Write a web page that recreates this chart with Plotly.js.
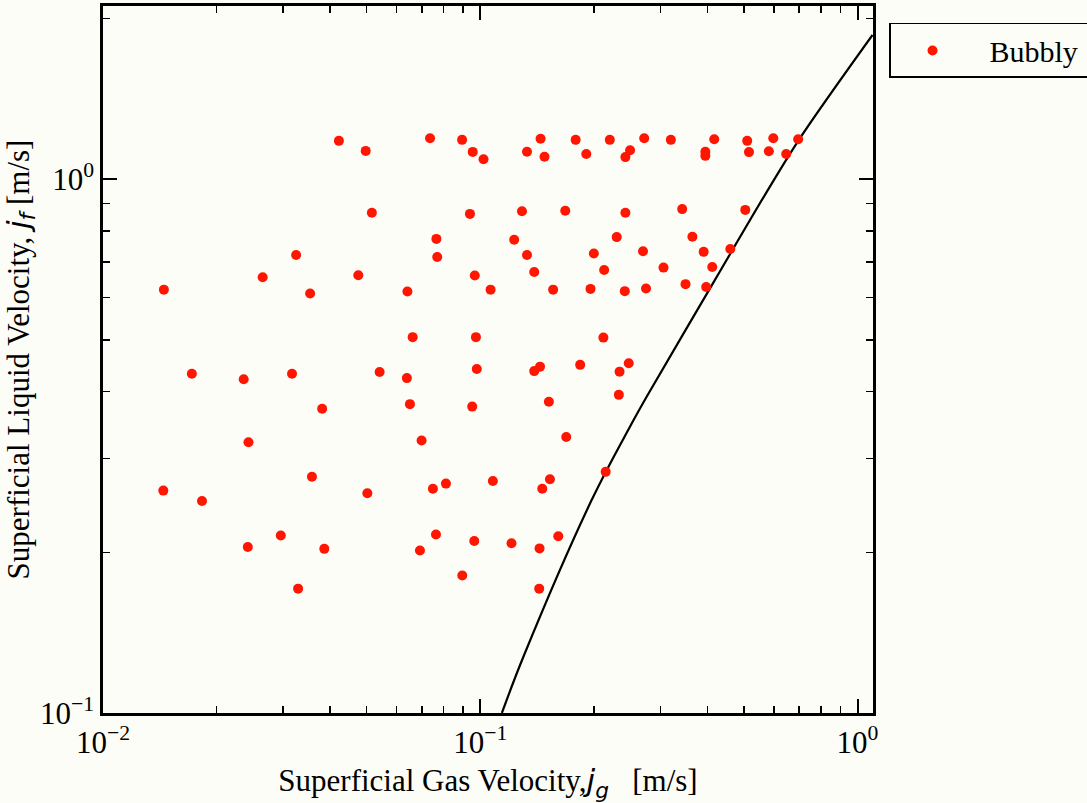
<!DOCTYPE html>
<html>
<head>
<meta charset="utf-8">
<script src="https://cdn.plot.ly/plotly-3.0.1.min.js"></script>
<style>
html,body{margin:0;padding:0;background:#fdfdf8;}
#chart{width:1087px;height:803px;}
</style>
</head>
<body>
<div id="chart"></div>
<script>
// Bubbly flow data: superficial gas velocity j_g [m/s] and liquid velocity j_f [m/s]
const bubblyJg = [
  0.0422,0.0497,0.0736,0.0895,0.0955,0.102,0.133,0.1445,0.148,0.179,0.191,0.2205,0.2425,0.2495,0.272,0.320,0.395,0.395,0.417,0.510,0.5155,0.582,0.598,0.647,0.696,
  0.0516,0.0939,0.129,0.168,0.2425,0.343,0.504,
  0.0765,0.0769,0.123,0.230,0.365,0.0325,0.133,0.200,0.270,0.391,0.460,
  0.0265,0.0475,0.0967,0.139,0.213,0.306,0.412,0.0145,0.0354,0.0641,0.1065,0.156,0.196,0.2416,0.275,0.350,0.397,
  0.0662,0.0974,0.212,
  0.0172,0.0236,0.0317,0.0541,0.0639,0.0979,0.139,0.144,0.184,0.234,0.2475,
  0.0381,0.0651,0.0952,0.152,0.233,
  0.0243,0.0699,0.169,
  0.01445,0.0183,0.0358,0.0502,0.0749,0.0811,0.108,0.153,0.146,0.215,
  0.0242,0.0296,0.0386,0.0692,0.0763,0.0964,0.121,0.1436,0.161,
  0.0329,0.0896,0.1433
];
const bubblyJf = [
  1.180,1.130,1.193,1.185,1.125,1.090,1.126,1.191,1.102,1.185,1.115,1.185,1.100,1.133,1.193,1.185,1.126,1.106,1.188,1.180,1.124,1.128,1.193,1.115,1.188,
  0.865,0.861,0.871,0.873,0.865,0.879,0.876,
  0.773,0.715,0.770,0.779,0.780,0.721,0.721,0.726,0.733,0.731,0.740,
  0.655,0.661,0.660,0.670,0.676,0.683,0.685,0.621,0.611,0.616,0.621,0.621,0.623,0.617,0.624,0.636,0.628,
  0.506,0.506,0.505,
  0.432,0.422,0.432,0.4355,0.424,0.441,0.437,0.4455,0.449,0.436,0.452,
  0.3715,0.379,0.375,0.383,0.3945,
  0.3215,0.324,0.329,
  0.261,0.2495,0.277,0.258,0.263,0.269,0.272,0.274,0.263,0.283,
  0.2046,0.215,0.203,0.2016,0.216,0.210,0.208,0.2034,0.2144,
  0.171,0.181,0.171
];
// Transition boundary
const boundaryJg = [0.1141,0.1302,0.1975,0.2495,0.2763,0.4189,0.5858,0.7035,1.096];
const boundaryJf = [0.1000,0.1276,0.2508,0.3441,0.3916,0.6477,0.9686,1.193,1.863];

const xTickVals = [0.01, 0.1, 1];
const xTickText = ['10<sup>\u22122</sup>','10<sup>\u22121</sup>','10<sup>0</sup>'];
const yTickVals = [0.1, 1];
const yTickText = ['10<sup>\u22121</sup>','10<sup>0</sup>'];
const xMinorVals = [0.02,0.03,0.04,0.05,0.06,0.07,0.08,0.09,0.2,0.3,0.4,0.5,0.6,0.7,0.8,0.9];
const yMinorVals = [0.2,0.3,0.4,0.5,0.6,0.7,0.8,0.9,2];

const FONT = 'Liberation Serif';
const BG = '#fdfdf8';
const MATH = 'font-family:DejaVu Sans;font-style:italic';

const traces = [
  {
    x: boundaryJg, y: boundaryJf, type: 'scatter', mode: 'lines',
    line: {color: '#000000', width: 2.2, shape: 'spline', smoothing: 1},
    showlegend: false, hoverinfo: 'skip'
  },
  {
    x: bubblyJg, y: bubblyJf, type: 'scatter', mode: 'markers', name: '\u00a0\u00a0Bubbly\u00a0',
    marker: {color: 'rgb(255,22,0)', size: 10, line: {width: 0}}
  }
];

const axisCommon = {
  type: 'log',
  showgrid: false, zeroline: false,
  showline: true, linecolor: '#000', linewidth: 2.6, mirror: 'allticks',
  ticks: 'inside', ticklen: 14, tickwidth: 2, tickcolor: '#000',
  tickmode: 'array',
  tickfont: {family: FONT, size: 31, color: '#000'}
};

const layout = {
  width: 1087, height: 803,
  paper_bgcolor: BG, plot_bgcolor: BG,
  margin: {l: 103, r: 214, t: 6, b: 90, autoexpand: false},
  font: {family: FONT, size: 30, color: '#000'},
  xaxis: Object.assign({}, axisCommon, {
    range: [-2, 0.041],
    tickvals: xTickVals, ticktext: xTickText,
    minor: {tickmode: 'array', tickvals: xMinorVals, ticks: 'inside', ticklen: 7, tickwidth: 1.5, tickcolor: '#000'},
    title: {text: 'Superficial Gas Velocity,<span style="' + MATH + '">j</span><sub><span style="' + MATH + '">g</span></sub>\u00a0\u00a0\u00a0[m/s]',
            font: {family: FONT, size: 31, color: '#000'}, standoff: 12}
  }),
  yaxis: Object.assign({}, axisCommon, {
    range: [-1, 0.3245],
    tickvals: yTickVals, ticktext: yTickText,
    minor: {tickmode: 'array', tickvals: yMinorVals, ticks: 'inside', ticklen: 7, tickwidth: 1.5, tickcolor: '#000'},
    title: {text: 'Superficial Liquid Velocity, <span style="' + MATH + '">j</span><sub><span style="' + MATH + '">f</span></sub> [m/s]',
            font: {family: FONT, size: 31, color: '#000'}, standoff: 10}
  }),
  legend: {
    x: 1.0208, y: 0.976, xanchor: 'left', yanchor: 'top',
    bgcolor: BG, bordercolor: '#000', borderwidth: 1.5,
    font: {family: FONT, size: 30, color: '#000'},
    itemwidth: 74
  },
  showlegend: true
};

Plotly.newPlot('chart', traces, layout, {displayModeBar: false, staticPlot: true});
</script>
</body>
</html>
